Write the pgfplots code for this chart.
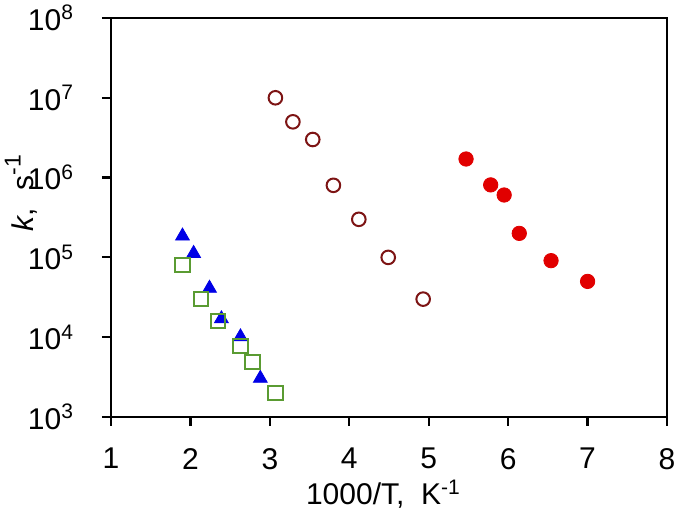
\documentclass[border=0pt]{standalone}
\usepackage{fontspec}
\setmainfont{Liberation Sans}
\usepackage{pgfplots}
\pgfplotsset{compat=1.18}
\definecolor{tblue}{RGB}{0,0,230}
\definecolor{sgreen}{RGB}{90,155,50}
\definecolor{dred}{RGB}{125,20,20}
\definecolor{fred}{RGB}{225,0,0}
\begin{document}
\begin{tikzpicture}
\begin{axis}[
  scale only axis,
  width=278pt, height=199.5pt,
  xmin=1, xmax=8, ymin=1e3, ymax=1e8,
  ymode=log,
  xtick={1,2,3,4,5,6,7,8},
  ytick={1e3,1e4,1e5,1e6,1e7,1e8},
  yticklabels={10\textsuperscript{3},10\textsuperscript{4},10\textsuperscript{5},10\textsuperscript{6},10\textsuperscript{7},10\textsuperscript{8}},
  minor tick num=0,
  yminorticks=false,
  tick align=outside,
  tick pos=left,
  major tick length=4.5pt,
  every tick/.style={line width=1.1pt, black},
  axis line style={line width=1.2pt},
  /pgf/number format/assume math mode=true,
  tick label style={font=\fontsize{15}{18}\selectfont},
  label style={font=\fontsize{15}{18}\selectfont},
  xticklabel style={yshift=-7.5pt},
  yticklabel style={xshift=-10.5pt},
  xlabel={1000/T,\ \ K\textsuperscript{-1}},
  ylabel={\textit{k},\hspace{9pt}s\raisebox{0.42em}{\fontsize{11.5}{12}\selectfont -1}},
  xlabel style={at={(axis description cs:0.49,0)}, anchor=base, yshift=-44pt},
  ylabel style={at={(axis description cs:0,0.589)}, anchor=center, yshift=45pt, xshift=-5.5pt},
]
\coordinate (sw) at (rel axis cs:0,0);
\coordinate (ne) at (rel axis cs:1,1);
\addplot[only marks, mark=triangle*, mark size=4pt, color=tblue] coordinates {
(1.90,1.85e5) (2.04,1.12e5) (2.24,4.1e4) (2.39,1.7e4) (2.63,1.01e4) (2.88,3.05e3)};
\addplot[only marks, mark=square, mark size=3.6pt, color=sgreen, line width=1pt] coordinates {
(1.90,8.0e4) (2.13,3.0e4) (2.35,1.6e4) (2.63,7.8e3) (2.78,4.9e3) (3.07,2.0e3)};
\addplot[only marks, mark=o, mark size=3.4pt, color=dred, line width=1pt] coordinates {
(3.07,1.0e7) (3.29,5.0e6) (3.54,3.0e6) (3.80,8.0e5) (4.12,3.0e5) (4.49,1.0e5) (4.93,3.0e4)};
\addplot[only marks, mark=*, mark size=3.6pt, color=fred] coordinates {
(5.47,1.71e6) (5.78,8.1e5) (5.95,6.05e5) (6.14,2.0e5) (6.54,9.1e4) (7.00,5.0e4)};
\end{axis}
\pgfresetboundingbox
\path[use as bounding box] ([xshift=-55.5pt,yshift=-47pt]sw) rectangle ([xshift=5pt,yshift=9pt]ne);
\end{tikzpicture}
\end{document}
